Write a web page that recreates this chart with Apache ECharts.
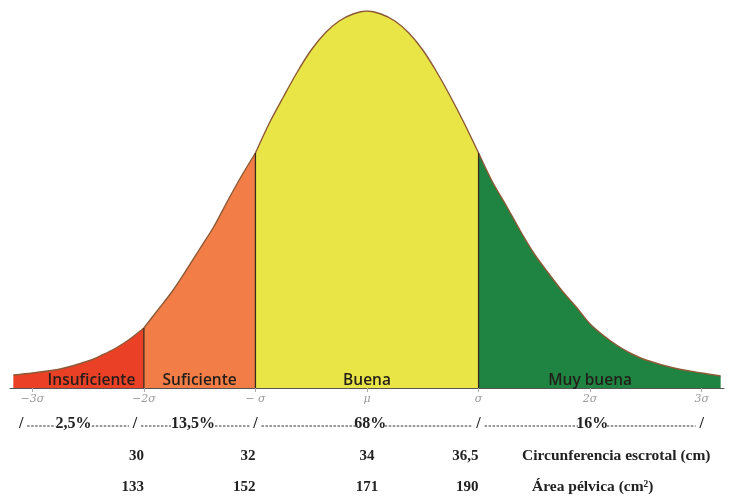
<!DOCTYPE html>
<html>
<head>
<meta charset="utf-8">
<script src="https://cdn.jsdelivr.net/npm/echarts@6/dist/echarts.min.js"></script>
<style>
  html, body { margin: 0; padding: 0; background: #fff; }
  #chart { width: 731px; height: 497px; }
</style>
</head>
<body>
<div id="chart"></div>
<script>
// curve (x in sigma units, height in px-like units)
const curveX = [-3.17, -3, -2.75, -2.5, -2.375, -2.25, -2.125, -2, -1.875, -1.75, -1.625, -1.5, -1.375,
  -1.25, -1.125, -1, -0.875, -0.75, -0.625, -0.5, -0.375, -0.25, -0.125, 0,
  0.125, 0.25, 0.375, 0.5, 0.625, 0.75, 0.875, 1, 1.125, 1.25, 1.375, 1.5, 1.625, 1.75,
  1.875, 2, 2.125, 2.25, 2.375, 2.5, 2.75, 3, 3.17]
const curveY = [13, 15, 19, 27, 33, 40, 49, 60, 78, 96, 117, 139, 161,
  187, 212, 235, 265, 291, 316, 338, 355, 367, 374, 377,
  374, 367, 355, 338, 316, 291, 264, 235, 206, 182, 157, 134, 115, 97,
  81, 64, 52, 42, 34, 28, 20, 15, 12]

// category bounds and names
const regionNames = ['Insuficiente', 'Suficiente', 'Buena', 'Muy buena']
const regionBounds = [-3.17, -2, -1, 1, 3.17]
const regionColors = ['#ea4026', '#f27d46', '#e9e546', '#1f8442']

// axis ticks
const sigmaTicks = [-3, -2, -1, 0, 1, 2, 3]
const sigmaLabels = ['−3σ', '−2σ', '− σ', 'μ', 'σ', '2σ', '3σ']

// rows below the axis
const slashValues = [-3.1, -2.08, -1, 1, 3]
const percentLabels = ['2,5%', '13,5%', '68%', '16%']
const percentValues = [-2.63, -1.56, 0.03, 2.02]
const rowValues = [-2, -1, 0, 1]
const escrotal = ['30', '32', '34', '36,5']
const pelvica = ['133', '152', '171', '190']
const rowTitles = ['Circunferencia escrotal (cm)', 'Área pélvica (cm²)']

const chart = echarts.init(document.getElementById('chart'))

const regionSeries = regionNames.map((name, i) => {
  const lo = regionBounds[i]
  const hi = regionBounds[i + 1]
  const data = []
  curveX.forEach((x, j) => {
    if (x >= lo && x <= hi) data.push([x, curveY[j]])
  })
  return {
    name: name,
    type: 'line',
    data: data,
    smooth: 0.3,
    symbol: 'none',
    lineStyle: { color: '#8c5a36', width: 1.4 },
    areaStyle: { color: regionColors[i], opacity: 1 },
    z: 2,
  }
})

const dividerSeries = regionBounds.slice(1, -1).map((b) => ({
  type: 'line',
  data: [[b, 0], [b, curveY[curveX.indexOf(b)]]],
  symbol: 'none',
  lineStyle: { color: '#3a2a1c', width: 1.3 },
  z: 3,
}))

chart.setOption({
  animation: false,
  grid: { left: 10, right: 7, top: 11, bottom: 109 },
  xAxis: {
    type: 'value',
    min: -3.2,
    max: 3.2,
    axisLine: { lineStyle: { color: '#555', width: 1 } },
    axisTick: {
      show: true,
      customValues: sigmaTicks,
      length: 4,
      lineStyle: { color: '#aaa' },
    },
    axisLabel: {
      customValues: sigmaTicks,
      formatter: (v) => sigmaLabels[sigmaTicks.indexOf(Math.round(v))],
      color: '#9a9a9a',
      fontFamily: 'DejaVu Serif',
      fontStyle: 'italic',
      fontSize: 11,
      margin: 6,
    },
    splitLine: { show: false },
  },
  yAxis: {
    type: 'value',
    min: 0,
    max: 377,
    show: false,
  },
  series: [...regionSeries, ...dividerSeries],
})

// text rows placed through the axis scale
const px = (v) => chart.convertToPixel({ xAxisIndex: 0 }, v)
const base = chart.convertToPixel({ yAxisIndex: 0 }, 0)
const serif = 'Liberation Serif'
const ink = '#222'
const elements = []

const labelCenters = [-2.47, -1.5, 0, 2.0]
regionNames.forEach((name, i) => {
  elements.push({
    type: 'text',
    x: px(labelCenters[i]),
    y: base - 7,
    style: {
      text: name,
      fill: '#231e1a',
      font: '600 15.5px "Open Sans"',
      align: 'center',
      verticalAlign: 'middle',
    },
    z: 10,
  })
})

// percent row: slashes, dashes and shares
const rowY = 424
slashValues.forEach((v) => {
  elements.push({
    type: 'text', x: px(v), y: rowY,
    style: { text: '/', fill: ink, font: 'bold 16px ' + serif, align: 'center', verticalAlign: 'middle' },
  })
})
percentLabels.forEach((t, i) => {
  const cx = px(percentValues[i])
  const w = t.length * 7.6
  elements.push({
    type: 'text', x: cx, y: rowY,
    style: { text: t, fill: ink, font: 'bold 16px ' + serif, align: 'center', verticalAlign: 'middle' },
  })
  const left = px(slashValues[i]) + 6
  const right = px(slashValues[i + 1]) - 6
  ;[[left, cx - w / 2 - 3], [cx + w / 2 + 3, right]].forEach(([a, b]) => {
    elements.push({
      type: 'line',
      shape: { x1: a, y1: rowY + 2, x2: b, y2: rowY + 2 },
      style: { stroke: '#333', lineWidth: 1, lineDash: [2.5, 1.5] },
    })
  })
})

// value rows
;[[escrotal, 456], [pelvica, 487]].forEach(([vals, y], r) => {
  vals.forEach((t, i) => {
    const v = rowValues[i]
    elements.push({
      type: 'text', x: px(v), y: y,
      style: {
        text: t, fill: ink, font: 'bold 15px ' + serif,
        align: v === 0 ? 'center' : 'right', verticalAlign: 'middle',
      },
    })
  })
  elements.push({
    type: 'text', x: r === 0 ? 522 : 532, y: y,
    style: { text: rowTitles[r], fill: ink, font: 'bold 15.5px ' + serif, align: 'left', verticalAlign: 'middle' },
  })
})

chart.setOption({ graphic: { elements: elements } })
</script>
</body>
</html>
